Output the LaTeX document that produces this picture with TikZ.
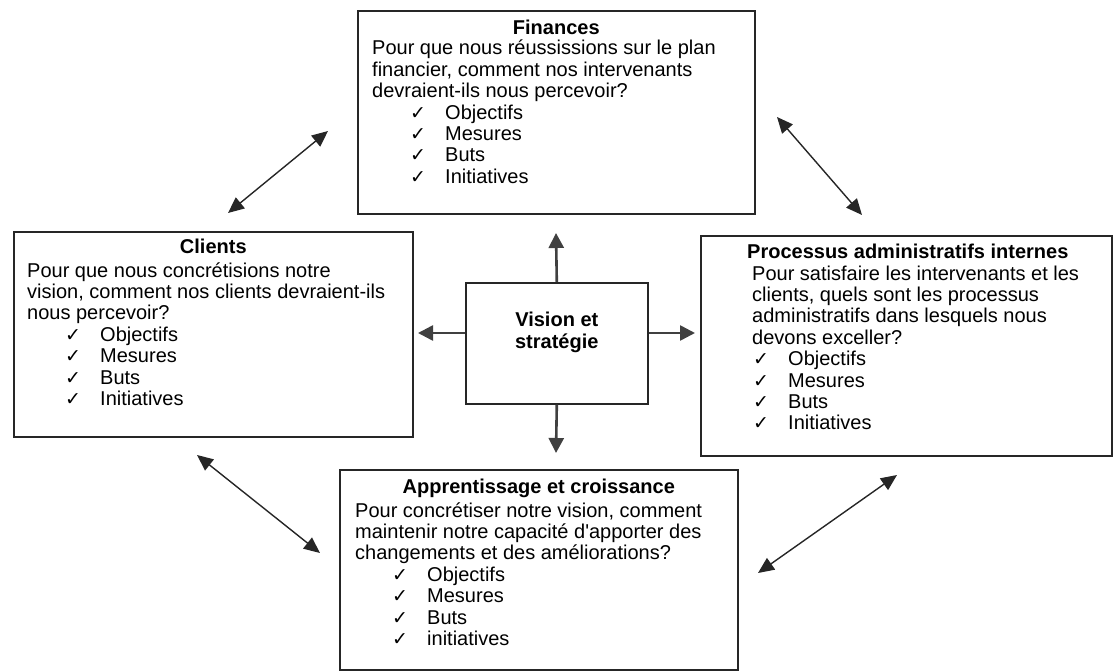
\documentclass[tikz,border=0pt]{standalone}
\usepackage{fontspec}
\setmainfont{Liberation Sans}
\newfontfamily\chkfont{DejaVu Sans}
\usetikzlibrary{arrows.meta,calc}

% one checklist entry: indent, tick, label
\newcommand{\chkitem}[2][38pt]{\hspace*{#1}\makebox[35pt][l]{\chkfont\fontsize{19}{21.4}\selectfont ✓}#2}
% question block, first baseline on the node's base anchor
\newcommand{\qblock}[1]{\parbox[t]{440pt}{\raggedright #1}}

\tikzset{
  panel/.style={draw=black!85, line width=1.6pt, fill=white, inner sep=0pt, anchor=north west},
  ttl/.style={font=\bfseries\fontsize{20}{21.4}\selectfont, inner sep=0pt, anchor=base},
  txt/.style={font=\fontsize{20}{21.4}\selectfont, inner sep=0pt, anchor=base west},
  hubline/.style={draw=black!75, line width=2.6pt, -{Triangle[length=15pt,width=15pt]}},
  link/.style={draw=black!85, line width=1.4pt, {Triangle[length=16pt,width=14pt]}-{Triangle[length=16pt,width=14pt]}}
}

\begin{document}
\begin{tikzpicture}[x=1pt,y=-1pt]
\useasboundingbox (0,0) rectangle (1113,671);

% perspective boxes
\node[panel, minimum width=397pt, minimum height=203pt] (fin) at (357,10) {};
\node[panel, minimum width=399pt, minimum height=205pt] (cli) at (13,231) {};
\node[panel, minimum width=411pt, minimum height=220pt] (pro) at (700,235) {};
\node[panel, minimum width=398pt, minimum height=200pt] (app) at (339,469) {};
\node[panel, minimum width=182pt, minimum height=121pt] (vis) at (465,282) {};

% Finances
\node[ttl] (finT) at ($(fin.north)+(0,25)$) {Finances};
\node[txt] (finB) at ($(fin.north west)+(15,45)$) {\qblock{%
Pour que nous réussissions sur le plan\\
financier, comment nos intervenants\\
devraient-ils nous percevoir?\\
\chkitem{Objectifs}\\
\chkitem{Mesures}\\
\chkitem{Buts}\\
\chkitem{Initiatives}}};

% Clients
\node[ttl] (cliT) at ($(cli.north)+(0,22)$) {Clients};
\node[txt] (cliB) at ($(cli.north west)+(14,46)$) {\qblock{%
Pour que nous concrétisions notre\\
vision, comment nos clients devraient-ils\\
nous percevoir?\\
\chkitem{Objectifs}\\
\chkitem{Mesures}\\
\chkitem{Buts}\\
\chkitem{Initiatives}}};

% Processus administratifs internes
\node[ttl] (proT) at ($(pro.north)+(1.5,23)$) {Processus administratifs internes};
\node[txt] (proB) at ($(pro.north west)+(52,45)$) {\qblock{%
Pour satisfaire les intervenants et les\\
clients, quels sont les processus\\
administratifs dans lesquels nous\\
devons exceller?\\
\chkitem[1pt]{Objectifs}\\
\chkitem[1pt]{Mesures}\\
\chkitem[1pt]{Buts}\\
\chkitem[1pt]{Initiatives}}};

% Apprentissage et croissance
\node[ttl] (appT) at ($(app.north)+(0,24)$) {Apprentissage et croissance};
\node[txt] (appB) at ($(app.north west)+(16,48)$) {\qblock{%
Pour concrétiser notre vision, comment\\
maintenir notre capacité d\textquotesingle apporter des\\
changements et des améliorations?\\
\chkitem[37pt]{Objectifs}\\
\chkitem[37pt]{Mesures}\\
\chkitem[37pt]{Buts}\\
\chkitem[37pt]{initiatives}}};

% Vision et stratégie
\node[ttl, anchor=center, align=center] (visT) at ($(vis.center)+(0,-11)$) {Vision et\\stratégie};

% arrows out of the hub
\coordinate (upEnd) at (556,233);
\coordinate (downEnd) at (556,453);
\coordinate (leftEnd) at (418,333);
\coordinate (rightEnd) at (695,333);
\draw[hubline] (vis.north) -- (upEnd);
\draw[hubline] (vis.south) -- (downEnd);
\draw[hubline] (leftEnd -| vis.west) -- (leftEnd);
\draw[hubline] (rightEnd -| vis.east) -- (rightEnd);

% links between neighbouring perspectives
\coordinate (a1) at (228,213); \coordinate (b1) at (328,131);
\coordinate (a2) at (777,117); \coordinate (b2) at (862,215);
\coordinate (a3) at (197,455); \coordinate (b3) at (320,553);
\coordinate (a4) at (897,475); \coordinate (b4) at (758,573);
\draw[link] (a1) -- (b1);
\draw[link] (a2) -- (b2);
\draw[link] (a3) -- (b3);
\draw[link] (a4) -- (b4);
\end{tikzpicture}
\end{document}
